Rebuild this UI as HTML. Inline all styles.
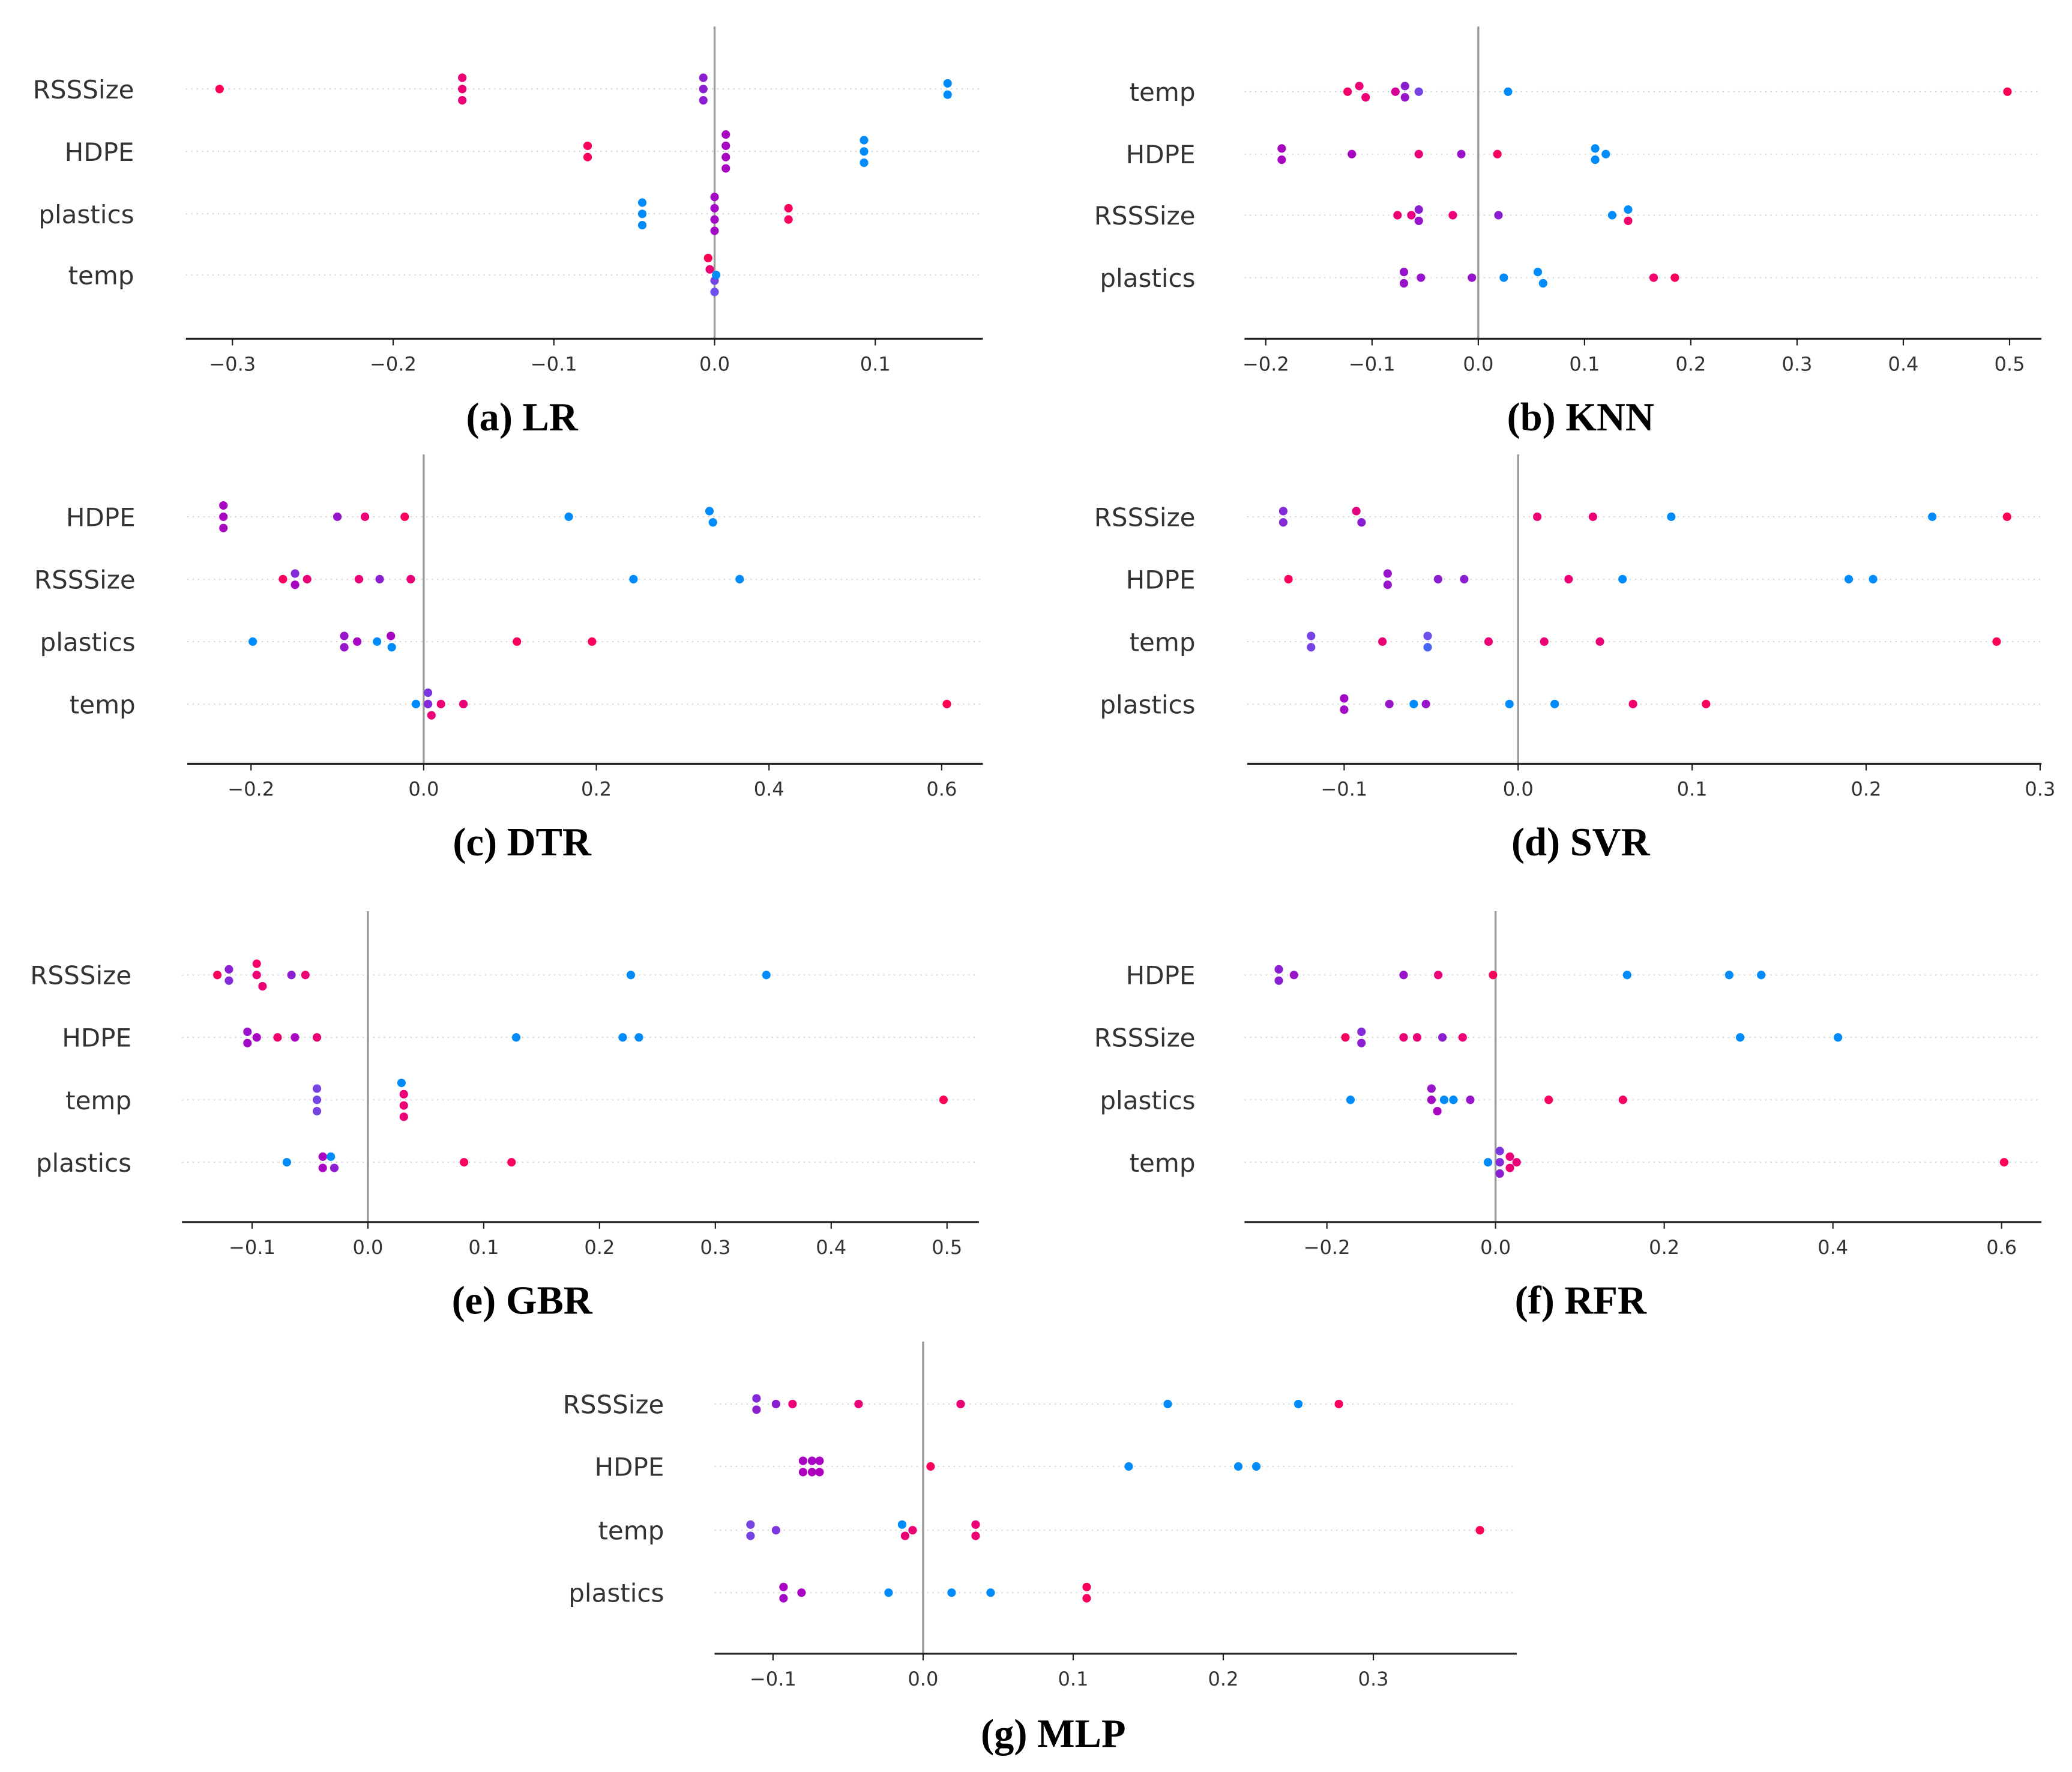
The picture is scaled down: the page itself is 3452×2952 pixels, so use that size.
<!DOCTYPE html>
<html><head><meta charset="utf-8">
<style>
html,body{margin:0;padding:0;background:#fff;}
svg{display:block;}
</style></head>
<body>
<svg id="fig" xmlns="http://www.w3.org/2000/svg" width="3452" height="2952" viewBox="0 0 1560 1334">
<rect x="0" y="0" width="1560" height="1334" fill="#fff"/>
</svg>
<script>
// ---- data (SHAP value, normalized feature value 0=low(blue) 1=high(red)) ----
const lrFeatures = ["RSSSize","HDPE","plastics","temp"];
const lrShap = [[-0.308,-0.157,-0.157,-0.157,-0.007,-0.007,-0.007,0.145,0.145],[-0.079,-0.079,0.007,0.007,0.007,0.007,0.093,0.093,0.093],[-0.045,-0.045,-0.045,0.0,0.0,0.0,0.0,0.046,0.046],[-0.004,-0.003,0.0,0.001,0.0]];
const lrColor = [[1,0.85,0.85,0.85,0.5,0.5,0.5,0,0],[0.95,0.95,0.62,0.62,0.62,0.62,0,0,0],[0,0,0,0.6,0.6,0.6,0.6,0.95,0.95],[1,0.85,0.35,0,0.3]];
const lrTicks = [-0.3,-0.2,-0.1,0.0,0.1];

const knnFeatures = ["temp","HDPE","RSSSize","plastics"];
const knnShap = [[-0.123,-0.112,-0.106,-0.078,-0.069,-0.069,-0.056,0.028,0.498],[-0.185,-0.185,-0.119,-0.056,-0.016,0.018,0.11,0.11,0.12],[-0.076,-0.063,-0.056,-0.056,-0.024,0.019,0.126,0.141,0.141],[-0.07,-0.07,-0.054,-0.006,0.024,0.056,0.061,0.165,0.185]];
const knnColor = [[0.9,0.85,0.85,0.75,0.5,0.55,0.35,0,1],[0.62,0.62,0.62,0.85,0.55,0.95,0,0,0],[0.85,0.8,0.5,0.55,0.85,0.5,0,0,0.9],[0.55,0.55,0.55,0.55,0,0,0,0.9,0.95]];
const knnTicks = [-0.2,-0.1,0.0,0.1,0.2,0.3,0.4,0.5];

const dtrFeatures = ["HDPE","RSSSize","plastics","temp"];
const dtrShap = [[-0.232,-0.232,-0.232,-0.1,-0.068,-0.022,0.168,0.331,0.335],[-0.163,-0.149,-0.149,-0.135,-0.075,-0.051,-0.015,0.243,0.366],[-0.198,-0.092,-0.092,-0.077,-0.054,-0.038,-0.037,0.108,0.195],[-0.009,0.005,0.005,0.009,0.02,0.046,0.606]];
const dtrColor = [[0.62,0.62,0.62,0.55,0.85,0.95,0,0,0],[0.95,0.45,0.62,0.85,0.85,0.5,0.85,0,0],[0,0.55,0.55,0.62,0,0.62,0,0.95,0.95],[0,0.4,0.45,0.85,0.85,0.85,1]];
const dtrTicks = [-0.2,0.0,0.2,0.4,0.6];

const svrFeatures = ["RSSSize","HDPE","temp","plastics"];
const svrShap = [[-0.135,-0.135,-0.093,-0.09,0.011,0.043,0.088,0.238,0.281],[-0.132,-0.075,-0.075,-0.046,-0.031,0.029,0.06,0.19,0.204],[-0.119,-0.119,-0.078,-0.052,-0.052,-0.017,0.015,0.047,0.275],[-0.1,-0.1,-0.074,-0.06,-0.053,-0.005,0.021,0.066,0.108]];
const svrColor = [[0.45,0.45,0.8,0.5,0.85,0.85,0,0,1],[0.95,0.55,0.55,0.5,0.5,0.85,0,0,0],[0.35,0.35,0.85,0.3,0.2,0.85,0.85,0.85,1],[0.6,0.6,0.55,0,0.55,0,0,0.9,0.95]];
const svrTicks = [-0.1,0.0,0.1,0.2,0.3];

const gbrFeatures = ["RSSSize","HDPE","temp","plastics"];
const gbrShap = [[-0.13,-0.12,-0.12,-0.096,-0.096,-0.091,-0.066,-0.054,0.227,0.344],[-0.104,-0.104,-0.096,-0.078,-0.063,-0.044,0.128,0.22,0.234],[-0.044,-0.044,-0.044,0.029,0.031,0.031,0.031,0.497],[-0.07,-0.039,-0.039,-0.032,-0.029,0.083,0.124]];
const gbrColor = [[0.95,0.5,0.45,0.9,0.85,0.85,0.5,0.85,0,0],[0.55,0.6,0.62,0.9,0.62,0.85,0,0,0],[0.35,0.35,0.35,0,0.85,0.85,0.85,1],[0,0.62,0.62,0,0.5,0.95,0.95]];
const gbrTicks = [-0.1,0.0,0.1,0.2,0.3,0.4,0.5];

const rfrFeatures = ["HDPE","RSSSize","plastics","temp"];
const rfrShap = [[-0.257,-0.257,-0.239,-0.109,-0.068,-0.003,0.156,0.277,0.315],[-0.178,-0.159,-0.159,-0.109,-0.093,-0.063,-0.039,0.29,0.406],[-0.172,-0.076,-0.076,-0.069,-0.061,-0.05,-0.03,0.063,0.151],[-0.009,0.005,0.005,0.005,0.017,0.017,0.025,0.603]];
const rfrColor = [[0.5,0.5,0.55,0.55,0.85,0.95,0,0,0],[0.95,0.45,0.5,0.85,0.85,0.5,0.85,0,0],[0,0.55,0.6,0.62,0,0,0.55,0.95,0.95],[0,0.4,0.45,0.5,0.85,0.85,0.85,1]];
const rfrTicks = [-0.2,0.0,0.2,0.4,0.6];

const mlpFeatures = ["RSSSize","HDPE","temp","plastics"];
const mlpShap = [[-0.111,-0.111,-0.098,-0.087,-0.043,0.025,0.163,0.25,0.277],[-0.08,-0.08,-0.074,-0.074,-0.069,-0.069,0.005,0.137,0.21,0.222],[-0.115,-0.115,-0.098,-0.014,-0.012,-0.007,0.035,0.035,0.371],[-0.093,-0.093,-0.081,-0.023,0.019,0.045,0.109,0.109]];
const mlpColor = [[0.45,0.5,0.5,0.85,0.85,0.85,0,0,0.95],[0.62,0.65,0.62,0.65,0.62,0.65,0.95,0,0,0],[0.35,0.35,0.4,0,0.85,0.85,0.85,0.85,1],[0.62,0.6,0.62,0,0,0,0.95,0.95]];
const mlpTicks = [-0.1,0.0,0.1,0.2,0.3];

const panelTitles = ["(a) LR","(b) KNN","(c) DTR","(d) SVR","(e) GBR","(f) RFR","(g) MLP"];

// ---- layout (display coordinates) ----
const layouts = [
 {key:"lr", feats:lrFeatures, shap:lrShap, col:lrColor, ticks:lrTicks, x0:140, x1:740, zero:538, unit:1210, axisY:255, top:20, rows:[67,114,161,207], labelX:101, titleX:393, titleY:314},
 {key:"knn", feats:knnFeatures, shap:knnShap, col:knnColor, ticks:knnTicks, x0:937, x1:1537, zero:1113, unit:800, axisY:255, top:20, rows:[69,116,162,209], labelX:900, titleX:1190, titleY:314},
 {key:"dtr", feats:dtrFeatures, shap:dtrShap, col:dtrColor, ticks:dtrTicks, x0:141, x1:740, zero:319, unit:650, axisY:575, top:342, rows:[389,436,483,530], labelX:102, titleX:393, titleY:634},
 {key:"svr", feats:svrFeatures, shap:svrShap, col:svrColor, ticks:svrTicks, x0:939, x1:1537, zero:1143, unit:1310, axisY:575, top:342, rows:[389,436,483,530], labelX:900, titleX:1190, titleY:634},
 {key:"gbr", feats:gbrFeatures, shap:gbrShap, col:gbrColor, ticks:gbrTicks, x0:137, x1:737, zero:277, unit:872, axisY:920, top:686, rows:[734,781,828,875], labelX:99, titleX:393, titleY:979},
 {key:"rfr", feats:rfrFeatures, shap:rfrShap, col:rfrColor, ticks:rfrTicks, x0:937, x1:1537, zero:1126, unit:635, axisY:920, top:686, rows:[734,781,828,875], labelX:900, titleX:1190, titleY:979},
 {key:"mlp", feats:mlpFeatures, shap:mlpShap, col:mlpColor, ticks:mlpTicks, x0:538, x1:1142, zero:695, unit:1130, axisY:1245, top:1010, rows:[1057,1104,1152,1199], labelX:500, titleX:793, titleY:1305}
];

const NS = "http://www.w3.org/2000/svg";
const fig = document.getElementById("fig");
function mk(tag, attrs, parent){
  const e = document.createElementNS(NS, tag);
  for (const k in attrs) e.setAttribute(k, attrs[k]);
  (parent||fig).appendChild(e);
  return e;
}
const stops = [[0,[0,139,250]],[0.3,[110,80,235]],[0.5,[140,30,210]],[0.65,[175,0,190]],[0.8,[230,0,130]],[1,[255,0,82]]];
function cmap(v){
  for (let i=1;i<stops.length;i++){
    if (v<=stops[i][0]){
      const a=stops[i-1], b=stops[i], t=(v-a[0])/(b[0]-a[0]);
      const c=a[1].map((x,j)=>Math.round(x+(b[1][j]-x)*t));
      return "rgb("+c.join(",")+")";
    }
  }
  return "rgb(255,0,82)";
}
function fmt(v){
  const s = Math.abs(v).toFixed(1);
  return (v < -1e-9 ? "\u2212" : "") + s;
}

layouts.forEach((L, pi) => {
  const g = mk("g", {});
  
  
  const xs = v => L.zero + v * L.unit;

  // row grid + labels
  L.feats.forEach((f, ri) => {
    const y = L.rows[ri];
    const gl = mk("line", {x1:L.x0, x2:L.x1, y1:y, y2:y, stroke:"#d0d0d0", "stroke-width":0.8, "stroke-dasharray":"1,3"}, g);
    
    
    const t = mk("text", {x:L.labelX, y:y+7, "text-anchor":"end", "font-family":"DejaVu Sans, Liberation Sans, sans-serif", "font-size":19, fill:"#333"}, g);
    t.textContent = f;
    
    
  });

  // zero line
  const zl = mk("line", {x1:xs(0), x2:xs(0), y1:L.top, y2:L.axisY, stroke:"#999", "stroke-width":1.5}, g);
  
  

  // axis
  const ax = mk("line", {x1:L.x0, x2:L.x1, y1:L.axisY, y2:L.axisY, stroke:"#222", "stroke-width":1.4}, g);
  
  
  L.ticks.forEach(tv => {
    const x = xs(tv);
    const tk = mk("line", {x1:x, x2:x, y1:L.axisY, y2:L.axisY+5, stroke:"#222", "stroke-width":1}, g);
    
    
    const tl = mk("text", {x:x, y:L.axisY+24, "text-anchor":"middle", "font-family":"DejaVu Sans, Liberation Sans, sans-serif", "font-size":14.5, fill:"#333"}, g);
    tl.textContent = fmt(tv);
    
    
  });

  // dots
  L.shap.forEach((vals, ri) => {
    const y0 = L.rows[ri];
    const pts = vals.map((v,i)=>({v, c:L.col[ri][i], x:xs(v)})).sort((a,b)=>a.x-b.x);
    // group nearby points and stack vertically
    const groups = [];
    pts.forEach(p => {
      const last = groups[groups.length-1];
      if (last && p.x - last[0].x < 5) last.push(p); else groups.push([p]);
    });
    groups.forEach(gr => {
      const n = gr.length;
      gr.forEach((p, k) => {
        const dy = (k - (n-1)/2) * 8.5;
        const d = mk("circle", {cx:p.x, cy:y0+dy, r:3.2, fill:cmap(p.c)}, g);
        
        
      });
    });
  });

  // title
  const tt = mk("text", {x:L.titleX, y:L.titleY+10, "text-anchor":"middle", "font-family":"Liberation Serif, serif", "font-weight":"bold", "font-size":30, fill:"#000"}, g);
  tt.textContent = panelTitles[pi];
  
  
});
</script>
</body></html>
